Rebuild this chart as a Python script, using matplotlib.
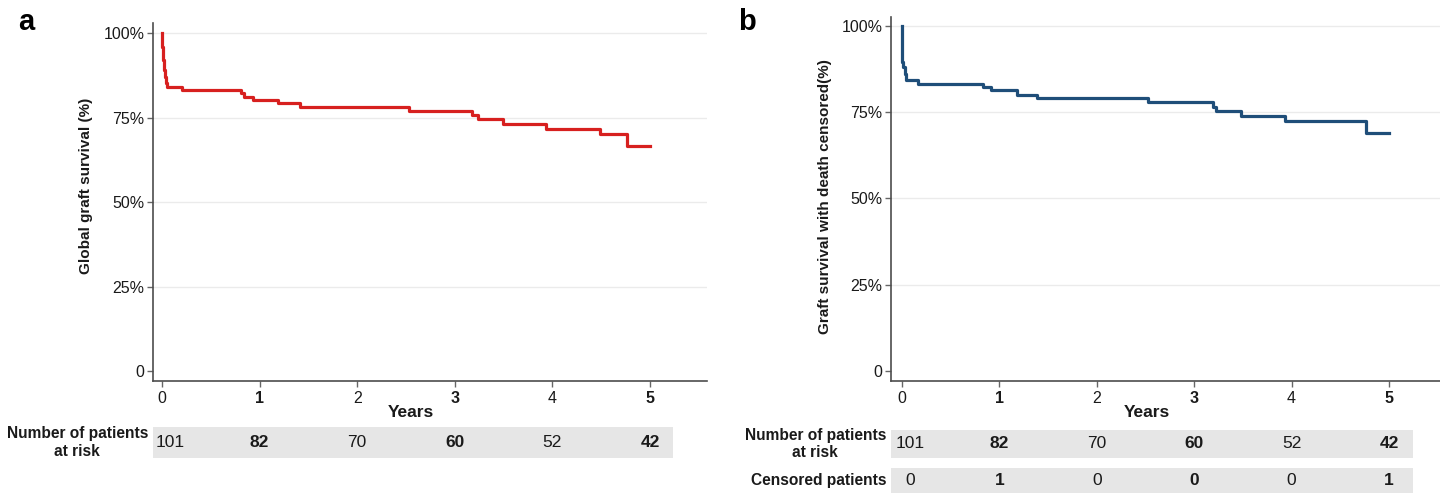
import matplotlib.pyplot as plt
from matplotlib.patches import Rectangle

# Kaplan-Meier curves (years, survival %)
years_a = [0, 0.005, 0.01, 0.02, 0.03, 0.04, 0.047, 0.20, 0.81, 0.84, 0.93, 1.19, 1.41,
           2.53, 3.18, 3.24, 3.49, 3.93, 4.49, 4.76, 5.0]
surv_a = [100, 96, 92, 89.1, 87.1, 85.1, 84.2, 83.2, 82.2, 81.2, 80.2, 79.2, 78.0,
          76.9, 75.8, 74.5, 73.0, 71.6, 70.0, 66.7, 66.7]

years_b = [0, 0.002, 0.005, 0.014, 0.028, 0.038, 0.165, 0.83, 0.91, 1.18, 1.39,
           2.53, 3.19, 3.22, 3.48, 3.93, 4.76, 5.0]
surv_b = [100, 93, 89.7, 88.2, 86.1, 84.4, 83.3, 82.2, 81.3, 80.1, 79.1,
          77.9, 76.6, 75.3, 73.9, 72.6, 69.1, 69.1]

year_ticks = [0, 1, 2, 3, 4, 5]
at_risk = [101, 82, 70, 60, 52, 42]
censored = [0, 1, 0, 0, 0, 1]
y_ticks = [0, 25, 50, 75, 100]
y_labels = ["0", "25%", "50%", "75%", "100%"]

FONT = ["Liberation Sans", "DejaVu Sans"]
GRID = "#ebebeb"
SPINE = "#4d4d4d"
BOX = "#e6e6e6"
TEXT = "#1a1a1a"


def style_axes(ax, ylim, ylabel, label_y):
    ax.set_ylim(*ylim)
    ax.set_xticks(year_ticks)
    ax.set_yticks(y_ticks)
    ax.set_yticklabels(y_labels)
    for lab in ax.get_xticklabels() + ax.get_yticklabels():
        lab.set_family(FONT)
        lab.set_fontsize(11.5)
        lab.set_color(TEXT)
    for lab, t in zip(ax.get_xticklabels(), year_ticks):
        if t % 2 == 1:
            lab.set_fontweight("bold")
    ax.tick_params(axis="both", length=4, width=1, color="#666666")
    ax.tick_params(axis="x", pad=3.5)
    ax.tick_params(axis="y", pad=2)
    ax.yaxis.grid(True, color=GRID, lw=1)
    ax.get_ygridlines()[0].set_visible(False)
    ax.set_axisbelow(True)
    for s in ["top", "right"]:
        ax.spines[s].set_visible(False)
    for s in ["left", "bottom"]:
        ax.spines[s].set_color(SPINE)
        ax.spines[s].set_linewidth(1.2)
    ax.set_xlabel("Years", family=FONT, fontsize=12.5, fontweight="bold", color=TEXT)
    ax.xaxis.set_label_coords(0.466, -0.066)
    ax.set_ylabel(ylabel, family=FONT, fontsize=11, fontweight="bold", color=TEXT)
    ax.yaxis.set_label_coords(-0.108, label_y)


def table_row(fig, ax, rect, values, label, x_end):
    tab = fig.add_axes(rect)
    tab.set_xlim(ax.get_xlim())
    tab.set_ylim(0, 1)
    tab.axis("off")
    x0 = ax.get_xlim()[0]
    tab.add_patch(Rectangle((x0, 0), x_end - x0, 1, color=BOX, lw=0))
    for t, v in zip(year_ticks, values):
        xpos = t + 0.08 if t == 0 else t
        tab.text(xpos, 0.5, str(v), ha="center", va="center", family=FONT,
                 fontsize=12.5, fontweight="bold" if t % 2 == 1 else "normal",
                 color=TEXT)
    tab.text(-0.009, 0.5, label, transform=tab.transAxes, ha="right", va="center",
             multialignment="center", family=FONT, fontsize=11.2, fontweight="bold",
             color=TEXT, linespacing=1.2)
    return tab


fig = plt.figure(figsize=(14.4, 4.93), dpi=100)

# panel a
ax_a = fig.add_axes([153 / 1440, 112 / 493, 554 / 1440, 358 / 493])
ax_a.step(years_a, surv_a, where="post", color="#d7201f", lw=2.3)
ax_a.set_xlim(-0.092, 5.584)
style_axes(ax_a, (-2.97, 103.0), "Global graft survival (%)", 0.545)
table_row(fig, ax_a, [153 / 1440, 35 / 493, 554 / 1440, 31 / 493], at_risk,
          "Number of patients\nat risk", 5.24)
fig.text(18 / 1440, 1 - 22 / 493, "a", fontsize=21, fontweight="bold",
         family=FONT, va="center", ha="left")

# panel b
ax_b = fig.add_axes([891 / 1440, 112 / 493, 549 / 1440, 364 / 493])
ax_b.step(years_b, surv_b, where="post", color="#1f4e79", lw=2.3)
ax_b.set_xlim(-0.113, 5.524)
style_axes(ax_b, (-2.9, 102.6), "Graft survival with death censored(%)", 0.508)
table_row(fig, ax_b, [891 / 1440, 35 / 493, 549 / 1440, 28 / 493], at_risk,
          "Number of patients\nat risk", 5.25)
table_row(fig, ax_b, [891 / 1440, 0 / 493, 549 / 1440, 25 / 493], censored,
          "Censored patients", 5.25)
fig.text(738 / 1440, 1 - 22 / 493, "b", fontsize=21, fontweight="bold",
         family=FONT, va="center", ha="left")

fig.savefig("out.png", dpi=100)
